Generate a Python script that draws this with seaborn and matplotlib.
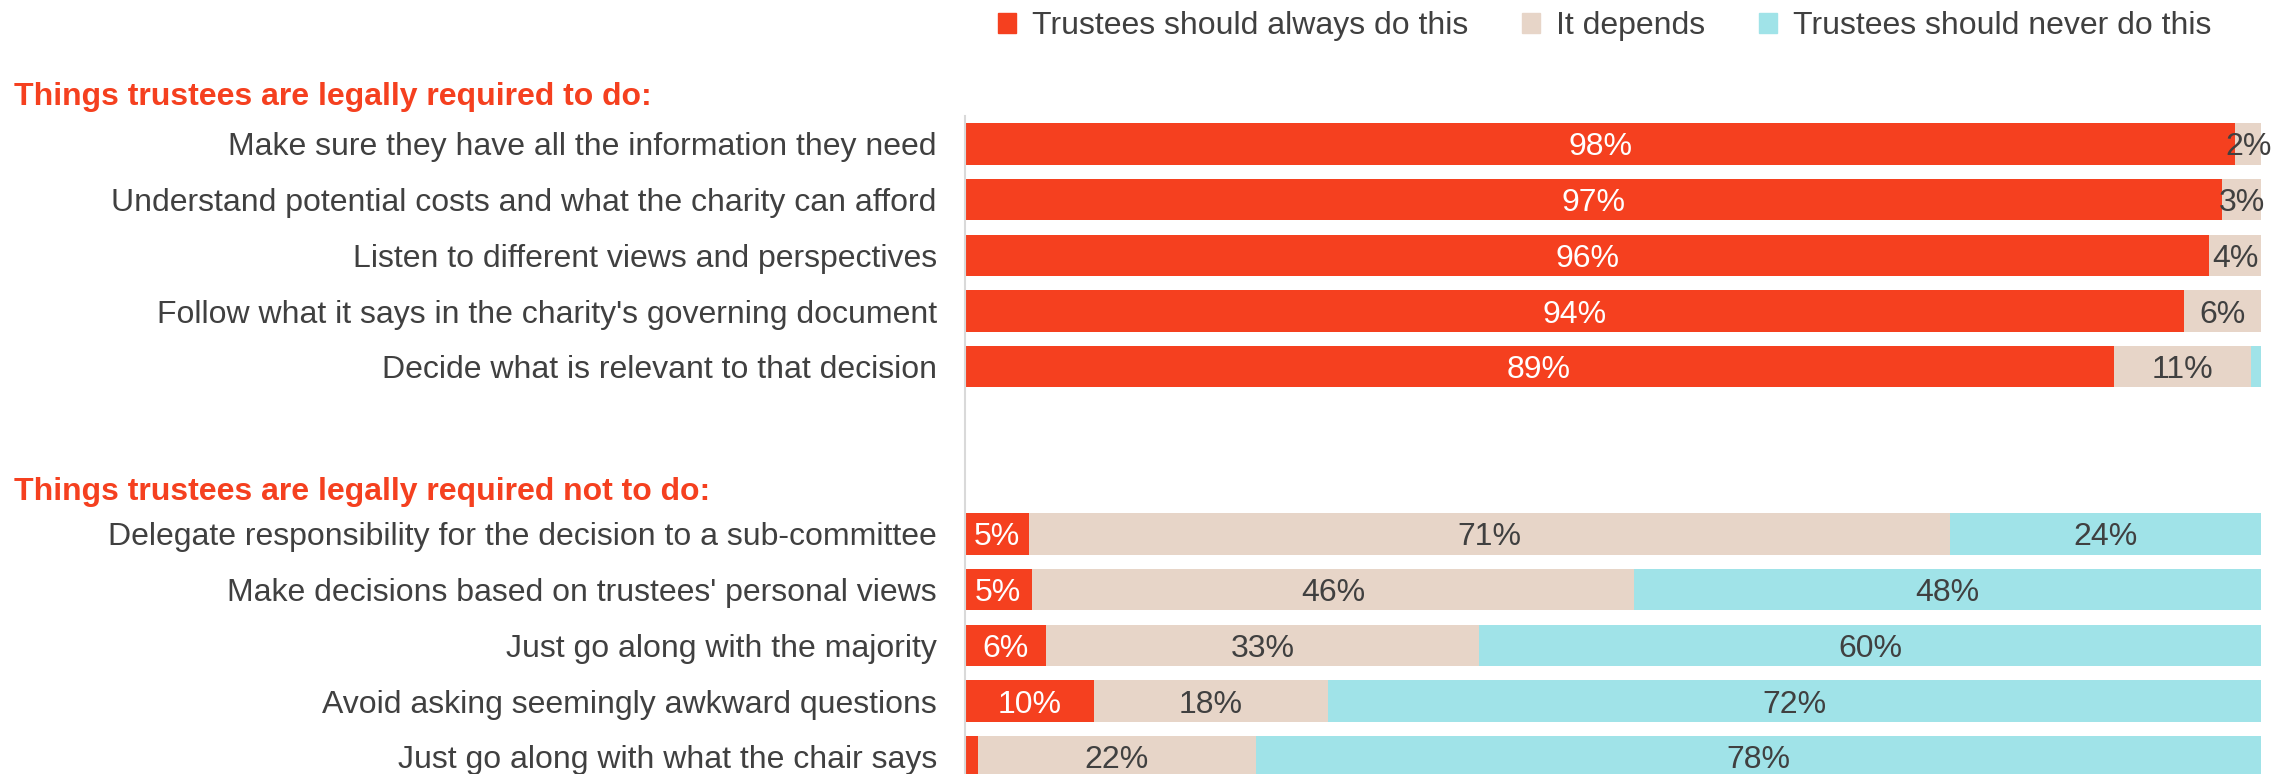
import pandas as pd
import numpy as np
import seaborn as sns
import matplotlib.pyplot as plt
from matplotlib.patches import Patch
from matplotlib.transforms import blended_transform_factory

# data (percent of respondents)
labels = [
    "Make sure they have all the information they need",
    "Understand potential costs and what the charity can afford",
    "Listen to different views and perspectives",
    "Follow what it says in the charity's governing document",
    "Decide what is relevant to that decision",
    "Delegate responsibility for the decision to a sub-committee",
    "Make decisions based on trustees' personal views",
    "Just go along with the majority",
    "Avoid asking seemingly awkward questions",
    "Just go along with what the chair says",
]
always = [98, 97, 96, 94, 88.6, 5, 5.2, 6.3, 10, 1.0]
depends = [2, 3, 4, 6, 10.6, 71, 46.4, 33.4, 18, 21.5]
never = [0, 0, 0, 0, 0.8, 24, 48.4, 60.3, 72, 77.5]
positions = [0, 1, 2, 3, 4, 7, 8, 9, 10, 11]
headers = ["Things trustees are legally required to do:",
           "Things trustees are legally required not to do:"]
series_names = ["Trustees should always do this", "It depends",
                "Trustees should never do this"]

RED = "#F5401F"
BEIGE = "#E7D5C8"
CYAN = "#A0E3E8"
TXT = "#404040"
FS = 23

df = pd.DataFrame({"label": labels, "pos": positions, "always": always,
                   "depends": depends, "never": never})
df["c1"] = df["always"]
df["c2"] = df["always"] + df["depends"]
df["c3"] = df["c2"] + df["never"]

plt.rcParams["font.family"] = ["Liberation Sans", "DejaVu Sans"]

fig = plt.figure(figsize=(22.75, 7.74), dpi=100)
ax = fig.add_axes([0.424, 0.0, 0.570, 0.850])

# stacked bars drawn as overlapping cumulative totals
for col, c in [("c3", CYAN), ("c2", BEIGE), ("c1", RED)]:
    sns.barplot(data=df, x=col, y="pos", orient="y", native_scale=True,
                color=c, width=0.74, errorbar=None, ax=ax, saturation=1,
                linewidth=0)

# value labels at segment centres
for _, r in df.iterrows():
    starts = [0, r["c1"], r["c2"]]
    for v, s, tc in zip([r["always"], r["depends"], r["never"]], starts,
                        ["white", TXT, TXT]):
        if v >= 2:
            ax.text(s + v / 2, r["pos"], f"{round(v)}%", ha="center",
                    va="center_baseline", fontsize=FS, color=tc)

ax.set_xlim(0, 100)
ax.set_ylim(11.31, -0.5)
ax.set_yticks(positions)
ax.set_yticklabels(labels, fontsize=FS, color=TXT)
ax.tick_params(axis="y", length=0, pad=20)
ax.set_xticks([])
ax.set_xlabel("")
ax.set_ylabel("")
for s in ["top", "right", "bottom"]:
    ax.spines[s].set_visible(False)
ax.spines["left"].set_color("#D9D9D9")
ax.spines["left"].set_linewidth(1.5)

trans = blended_transform_factory(fig.transFigure, ax.transData)
for h, y in zip(headers, [-0.84, 6.24]):
    ax.text(0.006, y, h, transform=trans, ha="left", va="center",
            fontsize=FS, fontweight="bold", color=RED, clip_on=False)

handles = [Patch(color=c) for c in [RED, BEIGE, CYAN]]
fig.legend(handles, series_names, loc="center right", ncol=3,
           bbox_to_anchor=(0.972, 0.966), frameon=False, fontsize=FS,
           handlelength=0.55, handleheight=0.55, handletextpad=0.5,
           columnspacing=1.7, labelcolor=TXT, borderaxespad=0, borderpad=0)

fig.savefig("out.png", dpi=100)
